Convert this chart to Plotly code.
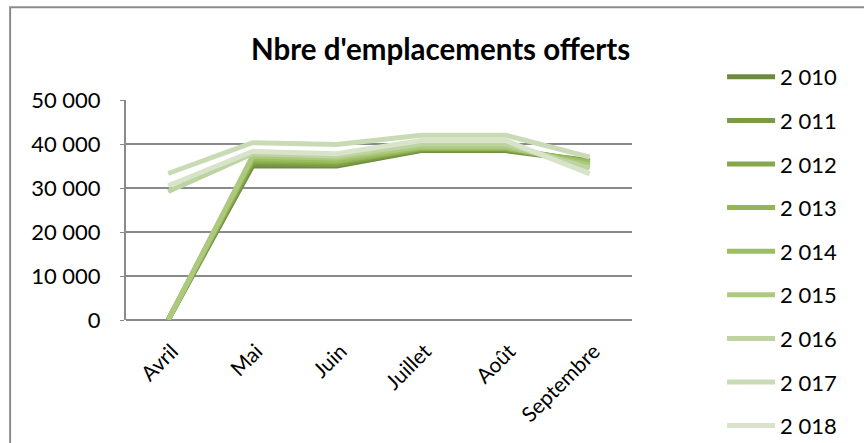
import plotly.graph_objects as go

months = ["Avril", "Mai", "Juin", "Juillet", "Août", "Septembre"]
years = ["2 010", "2 011", "2 012", "2 013", "2 014", "2 015", "2 016", "2 017", "2 018"]

y2010 = [0, 35000, 35000, 38500, 38500, 36000]
y2011 = [0, 35500, 35300, 38700, 38700, 36200]
y2012 = [0, 36000, 35700, 38900, 38900, 36000]
y2013 = [0, 36400, 36000, 39000, 39000, 35600]
y2014 = [0, 36800, 36300, 39200, 39200, 35800]
y2015 = [0, 37200, 36800, 39400, 39400, 35200]
y2016 = [29200, 37800, 37300, 40000, 40000, 34500]
y2017 = [33300, 40300, 39900, 42000, 42000, 37000]
y2018 = [30500, 38300, 37800, 40800, 40800, 33200]
series = [y2010, y2011, y2012, y2013, y2014, y2015, y2016, y2017, y2018]

colors = ["#6E8B3D", "#7B9A45", "#86A74C", "#93B555", "#9DBE5E",
          "#ADC87F", "#BDD3A0", "#C9DBB5", "#D7E4C9"]

font = "Lato, 'Open Sans', sans-serif"

fig = go.Figure()
for name, vals, c in zip(years, series, colors):
    fig.add_trace(go.Scatter(
        x=months, y=vals, name=name, mode="lines",
        line=dict(color=c, width=5),
        legendgroup=name,
    ))

fig.update_layout(
    width=864, height=443,
    margin=dict(l=126, r=232, t=100, b=123, autoexpand=False),
    paper_bgcolor="white", plot_bgcolor="white",
    font=dict(family=font, size=21, color="black"),
    separators=", ",
    title=dict(text="<b>Nbre d'emplacements offerts</b>",
               x=0.51, xanchor="center", xref="container",
               y=1 - 50 / 443, yanchor="middle", yref="container",
               font=dict(size=29.5, color="black")),
    legend=dict(x=1.178, xanchor="left", y=1 - 56 / 443, yanchor="top",
                yref="container", tracegroupgap=12, maxheight=600,
                font=dict(size=22), itemwidth=48),
    showlegend=True,
    shapes=[dict(type="rect", xref="paper", yref="paper",
                 x0=-0.229, x1=1.5, y0=-0.7, y1=1.422,
                 line=dict(color="#8c8c8c", width=2), layer="below")],
)
fig.update_xaxes(showgrid=False, showline=False, tickangle=-45,
                 tickfont=dict(size=21), ticks="", range=[-0.5, 5.5],
                 ticklabelshift=4, ticklabelstandoff=14)
fig.update_yaxes(range=[0, 50000], dtick=10000, tickformat=",d",
                 showgrid=True,
                 gridcolor="#8a8a8a", gridwidth=1.5,
                 showline=True, linecolor="#8a8a8a", linewidth=2,
                 zeroline=True, zerolinecolor="#8a8a8a", zerolinewidth=2,
                 ticks="outside", ticklen=4, tickcolor="#8a8a8a",
                 ticklabelstandoff=15, tickfont=dict(size=22))

fig.write_html("out.html", config={"displayModeBar": False},
               post_script="document.body.style.margin='0';")
